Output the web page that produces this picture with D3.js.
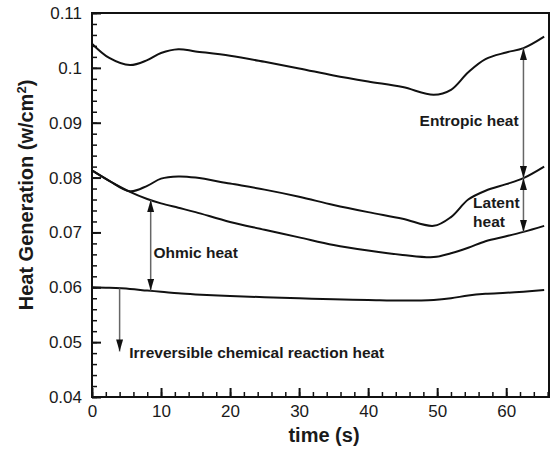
<!DOCTYPE html>
<html>
<head>
<meta charset="utf-8">
<script src="https://cdn.jsdelivr.net/npm/d3@7"></script>
<style>
  body { margin: 0; background: #fff; }
  svg text { font-family: "Liberation Sans", Arial, sans-serif; fill: #1a1a1a; }
  .tick-label { font-size: 17px; }
  .axis-title { font-size: 20px; font-weight: bold; }
  .note { font-size: 15.5px; font-weight: bold; }
</style>
</head>
<body>
<div id="chart"></div>
<script>
// time grid (s) shared by the four curves
var times = [0, 2.5, 5.5, 8, 10, 12.5, 15, 20, 25, 30, 35, 40, 45, 49.5, 52, 54.5, 57, 60, 62.5, 65.5];

// total heat (top curve)
var totalHeat = [0.1044, 0.1018, 0.1005, 0.1014, 0.1027, 0.1034, 0.1030, 0.1022, 0.1011, 0.0999,
                 0.0986, 0.0975, 0.0965, 0.0951, 0.0960, 0.0992, 0.1016, 0.1028, 0.1036, 0.1057];
// total minus entropic
var minusEntropic = [0.0813, 0.0794, 0.0775, 0.0785, 0.0798, 0.0802, 0.0800, 0.0789, 0.0778, 0.0765,
                     0.0750, 0.0737, 0.0725, 0.0712, 0.0728, 0.0760, 0.0776, 0.0788, 0.0799, 0.0820];
// minus latent
var minusLatent = [0.0813, 0.0794, 0.0774, 0.0761, 0.0753, 0.0745, 0.0737, 0.0719, 0.0705, 0.0691,
                   0.0677, 0.0667, 0.0659, 0.0655, 0.0662, 0.0672, 0.0684, 0.0693, 0.0701, 0.0712];
// irreversible chemical reaction heat
var irreversible = [0.0600, 0.0599, 0.0597, 0.0594, 0.0592, 0.0589, 0.0587, 0.0584, 0.0582, 0.0580,
                    0.0578, 0.0577, 0.0576, 0.0577, 0.0580, 0.0585, 0.0588, 0.0590, 0.0592, 0.0595];

var xTicks = [0, 10, 20, 30, 40, 50, 60];
var yTicks = [0.04, 0.05, 0.06, 0.07, 0.08, 0.09, 0.1, 0.11];

// arrows between curves: time, from value, to value, heads at both ends?
var arrows = [
    {t: 62.5, v1: 0.1036, v2: 0.0799, both: true},
    {t: 62.5, v1: 0.0799, v2: 0.0701, both: true},
    {t: 8.5,  v1: 0.0759, v2: 0.0594, both: true},
    {t: 4,    v1: 0.0598, v2: 0.0483, both: false}
];
// annotation texts: time, value, anchor
var notes = [
    {text: "Entropic heat", t: 61.8, v: 0.0894, anchor: "end"},
    {text: "Latent", t: 55.2, v: 0.07445, anchor: "start"},
    {text: "heat", t: 55.2, v: 0.0710, anchor: "start"},
    {text: "Ohmic heat", t: 8.9, v: 0.06535, anchor: "start"},
    {text: "Irreversible chemical reaction heat", t: 5.4, v: 0.04711, anchor: "start"}
];

var width = 556, height = 450;
var svg = d3.select("#chart").append("svg")
    .attr("width", width)
    .attr("height", height);

var x = d3.scaleLinear().domain([0, 66.2]).range([92, 549]);
var y = d3.scaleLinear().domain([0.04, 0.11]).range([397, 13]);

// minor ticks
svg.append("g")
    .attr("transform", "translate(0,397)")
    .call(d3.axisBottom(x).tickValues(d3.range(0, 67, 2)).tickSize(-5).tickFormat(""))
    .call(function(g) { g.select(".domain").remove(); })
    .selectAll("line").attr("stroke", "#111").attr("stroke-width", 1.5);
svg.append("g")
    .attr("transform", "translate(92,0)")
    .call(d3.axisLeft(y).tickValues(d3.range(0.04, 0.1101, 0.002)).tickSize(-5).tickFormat(""))
    .call(function(g) { g.select(".domain").remove(); })
    .selectAll("line").attr("stroke", "#111").attr("stroke-width", 1.5);

// major ticks
var xAxis = svg.append("g")
    .attr("transform", "translate(0,397)")
    .call(d3.axisBottom(x).tickValues(xTicks).tickSize(-9).tickPadding(8));
var yAxis = svg.append("g")
    .attr("transform", "translate(92,0)")
    .call(d3.axisLeft(y).tickValues(yTicks).tickSize(-9).tickPadding(10)
        .tickFormat(function(d) { return String(+d.toFixed(2)); }));

[xAxis, yAxis].forEach(function(g) {
    g.select(".domain").remove();
    g.selectAll("line").attr("stroke", "#111").attr("stroke-width", 2);
    g.selectAll("text").attr("class", "tick-label").attr("fill", "#1a1a1a")
        .style("font-family", "'Liberation Sans', Arial, sans-serif");
    g.attr("font-size", null).attr("font-family", null);
});

// frame
svg.append("rect")
    .attr("x", x(0)).attr("y", y(0.11))
    .attr("width", x(66.2) - x(0)).attr("height", y(0.04) - y(0.11))
    .attr("fill", "none").attr("stroke", "#111").attr("stroke-width", 2);

// curves
var line = d3.line()
    .x(function(d, i) { return x(times[i]); })
    .y(function(d) { return y(d); })
    .curve(d3.curveCatmullRom);

[totalHeat, minusEntropic, minusLatent, irreversible].forEach(function(s) {
    svg.append("path")
        .datum(s)
        .attr("d", line)
        .attr("fill", "none")
        .attr("stroke", "#111")
        .attr("stroke-width", 2);
});

// arrowheads
var defs = svg.append("defs");
defs.append("marker")
    .attr("id", "head")
    .attr("viewBox", "0 0 10 10")
    .attr("refX", 10).attr("refY", 5)
    .attr("markerWidth", 12).attr("markerHeight", 7)
    .attr("markerUnits", "userSpaceOnUse")
    .attr("orient", "auto-start-reverse")
    .attr("preserveAspectRatio", "none")
    .append("path")
    .attr("d", "M0,0L10,5L0,10Z")
    .attr("fill", "#111");

arrows.forEach(function(a) {
    svg.append("line")
        .attr("x1", x(a.t)).attr("x2", x(a.t))
        .attr("y1", y(a.v1)).attr("y2", y(a.v2))
        .attr("stroke", "#666")
        .attr("stroke-width", 1.5)
        .attr("marker-start", a.both ? "url(#head)" : null)
        .attr("marker-end", "url(#head)");
});

svg.selectAll(".note")
    .data(notes)
    .enter()
    .append("text")
    .attr("class", "note")
    .attr("x", function(d) { return x(d.t); })
    .attr("y", function(d) { return y(d.v); })
    .attr("text-anchor", function(d) { return d.anchor; })
    .text(function(d) { return d.text; });

// axis titles
svg.append("text")
    .attr("class", "axis-title")
    .attr("x", 324).attr("y", 442)
    .attr("text-anchor", "middle")
    .text("time (s)");

var yTitle = svg.append("text")
    .attr("class", "axis-title")
    .attr("transform", "translate(33,195) rotate(-90)")
    .attr("text-anchor", "middle");
yTitle.append("tspan").text("Heat Generation (w/cm");
yTitle.append("tspan").attr("dy", -7).style("font-size", "13px").text("2");
yTitle.append("tspan").attr("dy", 7).text(")");
</script>
</body>
</html>
